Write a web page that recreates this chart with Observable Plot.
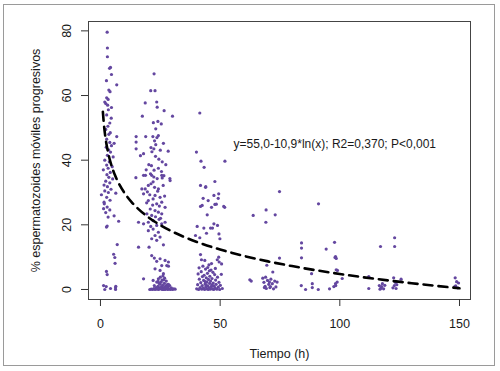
<!DOCTYPE html>
<html>
<head>
<meta charset="utf-8">
<script src="https://cdn.jsdelivr.net/npm/d3@7"></script>
<script src="https://cdn.jsdelivr.net/npm/@observablehq/plot@0.6"></script>
<style>
  html, body { margin: 0; padding: 0; background: #fff; }
  #wrap { position: relative; width: 500px; height: 371px; }
  #border { position: absolute; left: 3px; top: 4px; width: 492px; height: 362px; border: 1.5px solid #9a9a9a; box-sizing: border-box; pointer-events: none; }
</style>
</head>
<body>
<div id="wrap"><div id="border"></div></div>
<script>
// ---- data (hours, % progressive motile sperm) ----
const cluster1 = [[2.8,79.6],[2.9,74.7],[2.9,72],[4.2,68.7],[3.8,68.4],[4.6,66.5],[2.5,64.6],[6.8,63.3],[3.5,61.7],[4,61.2],[2.6,59.3],[3.2,58.8],[1.8,58],[2.2,57.5],[3,57],[4.6,56.3],[3.3,55.6],[2.6,54],[4.5,53],[3.9,51.5],[3.1,50.5],[2.2,49.5],[4.1,48.5],[3.5,48],[6.8,47.3],[2.6,46.5],[3.9,45.5],[5.7,45.2],[4.6,44.5],[2.4,44],[3.4,43.2],[4.2,42.5],[2.9,41.5],[5.3,41],[1.8,40],[3.7,39.5],[2.6,38.5],[4.9,38],[3.2,37.5],[1.2,37],[4.1,36.2],[2.7,35.5],[3.5,34.7],[5.1,34.2],[2.2,33.5],[3.9,33],[1.5,32.3],[2.9,31.8],[4.4,31],[0.4,29.3],[1.8,30.5],[3.3,30],[6.4,29.8],[2.6,28.5],[4,27.6],[1.5,27],[1.6,26.5],[2.8,25.5],[1.3,25],[3.9,24.6],[2.2,23.8],[5.7,22.8],[3.2,22.4],[7.6,21.1],[2.5,19.3],[2.8,19.6],[7,13.9],[5.5,10.9],[6,9.9],[6.1,8.1],[2.5,5.6],[2.8,4.6],[1.3,1.2],[2.4,0.9],[4.2,0.3],[6.3,0.5],[6.3,0],[1.8,0],[6.4,1]];
const cluster2 = [[22.4,66.7],[21,61.5],[22.8,61.5],[18.7,57.7],[23.5,58],[23.7,56.4],[26.6,55.3],[17.5,53.6],[30.1,53.6],[22.1,51.6],[24,52],[25.4,51.2],[23.1,49.7],[24.2,47.6],[23.6,47],[14.9,47.3],[18.9,47.3],[21.9,47.3],[14.9,45.6],[22.6,46],[23.1,44.8],[26.3,45.2],[22.3,43.5],[14.9,43.5],[21.1,43.9],[21.5,42.6],[25,43.1],[28.3,42.8],[16.7,41.4],[18,42],[23,41.2],[24.4,40.3],[25.8,39.5],[20.2,38.6],[21.3,38.3],[19.1,37],[22.4,36.9],[24.2,37.5],[27.3,38.6],[25.5,36.5],[18.8,35.3],[20.9,35.8],[22.3,34.8],[23.7,34.3],[25.8,34.5],[26.5,35.2],[14.8,34.6],[29,34.3],
  [18,35.3],[21.4,35.3],[25.6,35.3],[29.1,33.7],[17.3,31.1],[18.7,31.1],[20,32.2],[21.1,32.7],[22,33.3],[24.2,31.1],[26.2,32.2],[18,29.6],[22.8,29.1],[24.9,28.5],[20,27.5],[22,28],[23.5,26.5],[25.6,27],[27,25.4],[20.8,24.9],[22.8,24.4],[24.2,23.9],[19.4,23.4],[21.4,22.9],[25.6,23.4],[15.9,20.8],[18,20.3],[20,20.8],[22,21.3],[23.5,19.8],[25.6,20.3],[27,20.8],[20,18.2],[22,18.7],[24.2,17.7],[22.8,16.7],[24.9,16.2],[21.4,15.7],[23.5,15.2],[26.3,13.8],[15.9,13.1],[20.3,13.1],[21.4,10.5],[22.5,9.7],[24.9,9.5],[23.5,8.7],[27,9],[28.4,8.5],[25.6,7.4],[27.7,7.4],[28.4,7.2],[22.8,6.4],[24.9,5.9],[26.3,4.9],[18,3.3],[22,2.8],[23.5,2.3],[24.2,3.3],
  [19.6,30.2],[23.9,30.4],[21.8,26.1],[24.6,25.8],[19.3,26.8],[26.8,28.9],[22.6,31.6],[20.6,29.3],[25.1,22],[23,22.5],[21,19.5],[24.5,21.7],
  [21.8,0],[22.3,0.3],[22.8,0],[23.2,0.6],[23.6,0.1],[24,1],[24.3,0],[24.6,0.4],[24.9,1.6],[25.2,0.2],[25.4,2.3],[25.6,0.8],[25.8,0],[26,1.3],[26.2,0.5],[26.4,3],[26.5,0.1],[26.7,1.9],[26.9,0.7],[27.1,0],[27.3,1.1],[27.5,2.6],[27.7,0.3],[27.9,1.5],[28.1,0],[28.3,0.9],[28.6,0.2],[28.9,1.2],[29.2,0],[29.6,0.5],[30.1,0],[30.6,0.2],[24.1,2.5],[25,3.8],[26.1,4.2],[25.7,2.9],[26.8,3.5],[24.5,1.9],[23.9,0.4],[27,0.4],[21.2,0.1],[20.6,0],[31.2,0.1],[26.3,0],[25.1,0.6],[27.6,0.7],[22.5,1.2],[28.4,1.6]];
const cluster3 = [[41.5,54.6],[40.1,42.5],[42,39.7],[43.3,37.8],[52,39.7],[44,31.8],[47.8,33.4],[42.9,28.2],[45,27.5],[46.4,25.4],[47.8,26.3],[48.4,26.4],[49.2,28.2],[41.8,25.7],[51.9,25.4],[44.6,23.1],[40.4,19.5],[43.2,19],[47.4,20.3],[48.9,19.8],[46.8,19],[39.7,16.7],[41.5,16],[44.3,17.4],[49.9,15.7],[41.8,10.8],[42.2,9.2],[49.4,10],[48.8,9.2],[50.6,7.9],[41.8,32.2],[43.9,31.6],[47.4,29.1],[49.4,29.6],[42.5,26],[46,19],[49.5,17.2],[51.5,25.7],
  [40.2,0.2],[40.6,1.5],[41,0],[41.3,3.2],[41.6,0.6],[41.9,2.1],[42.1,5.5],[42.3,0.1],[42.5,1.2],[42.8,7.2],[43,0.4],[43.1,2.8],[43.3,4.4],[43.5,0],[43.7,1.7],[43.9,6.3],[44,0.8],[44.2,3.6],[44.4,0.2],[44.5,2.3],[44.7,5],[44.9,1.1],[45,0],[45.1,3.1],[45.3,7.6],[45.4,0.5],[45.6,1.9],[45.7,4.1],[45.9,0.1],[46,2.6],[46.2,6],[46.3,0.9],[46.5,1.4],[46.6,3.4],[46.8,0.2],[47,5.3],[47.1,2],[47.3,0],[47.5,1],[47.7,4.6],[47.9,0.4],[48.1,2.9],[48.3,1.6],[48.6,0.1],[48.9,3.8],[49.2,0.7],[49.5,2.2],[49.8,0],[50.1,1.3],[50.5,4.7],[50.9,0.3],[42.6,4],[44.8,6.8],[46.4,8],[43.6,9],[45.5,5.8],[41.2,6.7],[48,6.5],[49.6,8.5],[40.8,4.8],[45.2,0.3],[44.1,1.4],[46.9,1.2],[43.8,2.4]];
const clusterLate = [[62.4,3],[63,2.6],[63.8,22.9],[69.2,24.6],[69.1,20.8],[73,23.1],[74.8,30.3],[91.1,26.5],[84,14.4],[84,12.8],[84,9.8],[97.8,14.6],[94.3,12.5],[98,9.9],[98.5,9.6],[98.2,10.2],[74.8,9.7],[69.5,7.5],[72,5.4],[101,3.4],[98.5,6.1],[99,5.9],[88.2,4.9],
  [67.8,3.5],[68.3,2.2],[68.8,1],[69.3,0.3],[69.8,2.8],[70.3,1.6],[70.8,0.6],[71.2,3.2],[71.8,1.8],[72.3,0.2],[69,3.8],[70.6,2.3],[68.5,0.6],[71,0.9],[72.8,2.6],[73.8,2.3],[73.3,0.8],
  [83.9,1.2],[85.7,0],[88.5,1.8],[88.5,0.6],[91,0],
  [95.7,0.2],[97.5,0.9],[98.3,1.2],[98.2,1.8],[98.9,2.3],
  [112.1,4],[112.1,0.3],
  [117,13.3],[116.5,1.2],[117.2,0.4],[117.8,1.8],[118.3,0.2],[117.5,0.9],[118.8,1.3],[116.8,0.1],
  [122.9,16],[122.9,13.3],[122.5,3.6],[123.2,2.2],[122.8,1.2],[123.5,0.3],[122.2,0.5],[123.8,1.5],[125.6,3.2],
  [148.2,3.6],[148.8,2.4],[148.4,1.1],[149.3,0.5],[148,0.9],[149.6,2]];

// fitted curve y = 55,0 - 10,9*ln(x), read at these hours
const fitX = [1,1.5,2,3,4,5,6,8,10,13,16,20,25,30,35,40,50,60,70,80,90,100,110,120,130,140,150];
const fitY = [55.0,50.58,47.44,43.03,39.89,37.46,35.47,32.33,29.90,27.04,24.78,22.35,19.91,17.93,16.25,14.79,12.36,10.37,8.69,7.24,5.95,4.80,3.76,2.82,1.95,1.14,0.38];

const xTicks = [0, 50, 100, 150];
const yTicks = [0, 20, 40, 60, 80];
const xLabel = "Tiempo (h)";
const yLabel = "% espermatozoides móviles progresivos";
const annotation = "y=55,0-10,9*ln(x); R2=0,370; P<0,001";
const annotX = 55.6, annotY = 45.1;

// ---- chart ----
const points = [...cluster1, ...cluster2, ...cluster3, ...clusterLate];
const fit = fitX.map((x, i) => ({x, y: fitY[i]}));
const purple = "#6447a0";

const chart = Plot.plot({
  width: 500,
  height: 371,
  marginLeft: 88,
  marginRight: 30,
  marginTop: 21,
  marginBottom: 72,
  style: {fontFamily: "'Liberation Sans', Arial, sans-serif", fontSize: "12px", color: "#1a1a1a", background: "transparent"},
  x: {domain: [-5.0, 154.6]},
  y: {domain: [-3.1, 82.9]},
  marks: [
    Plot.frame({stroke: "#444", strokeWidth: 1}),
    Plot.axisX({ticks: xTicks, tickSize: 7, tickFormat: () => "", label: null, stroke: "#333"}),
    Plot.axisY({ticks: yTicks, tickSize: 7, tickFormat: () => "", label: null, stroke: "#333"}),
    Plot.text(xTicks, {x: d => d, text: d => String(d), frameAnchor: "bottom", dy: 24, textAnchor: "middle", lineAnchor: "middle", fontSize: 12.5}),
    Plot.text(yTicks, {y: d => d, text: d => String(d), frameAnchor: "left", dx: -22, rotate: -90, textAnchor: "middle", lineAnchor: "middle", fontSize: 12.5}),
    Plot.text([xLabel], {text: d => d, frameAnchor: "bottom", dy: 54, textAnchor: "middle", lineAnchor: "middle", fontSize: 12.5}),
    Plot.text([yLabel], {text: d => d, frameAnchor: "left", dx: -53, rotate: -90, textAnchor: "middle", lineAnchor: "middle", fontSize: 12.5}),
    Plot.dot(points, {x: d => d[0], y: d => d[1], r: 1.6, fill: purple, stroke: "none"}),
    Plot.line(fit, {x: "x", y: "y", stroke: "#000", strokeWidth: 2.6, strokeDasharray: "9,6", curve: "monotone-x"}),
    Plot.text([annotation], {x: () => annotX, y: () => annotY, text: d => d, textAnchor: "start", fontSize: 12})
  ]
});
document.getElementById("wrap").prepend(chart);
</script>
</body>
</html>
